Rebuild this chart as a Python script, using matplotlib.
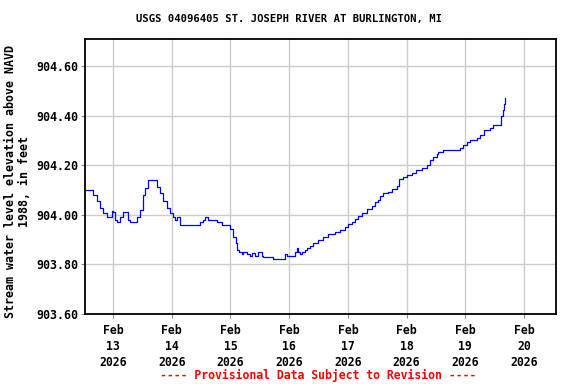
import matplotlib
matplotlib.use("Agg")
import matplotlib.pyplot as plt
import matplotlib.dates as mdates
import numpy as np
from datetime import datetime, timedelta

title = "USGS 04096405 ST. JOSEPH RIVER AT BURLINGTON, MI"
ylabel = "Stream water level elevation above NAVD\n1988, in feet"
footer = "---- Provisional Data Subject to Revision ----"

# hours after 2026-02-13 00:00
hours = [-11.0, -8.7, -8.05, -6.66, -5.31, -3.97, -2.58, -1.5, -0.53, 0.12, 0.82, 1.64, 2.45,
         2.86, 3.97, 5.31, 6.25, 6.95, 8.58, 9.69, 11.04, 12.39, 13.08, 14.19, 16.47, 17.86,
         19.21, 20.56, 21.95, 23.3, 24.65, 25.35, 26.04, 27.39, 35.28, 35.57, 36.92, 37.61,
         38.96, 42.1, 42.5, 44.44, 46.9, 47.83, 49.18, 50.16, 50.81, 51.63, 52.61, 53.27,
         54.66, 56.01, 56.7, 58.05, 59.4, 60.79, 61.44, 64.88, 65.28, 69.9, 70.31, 71.25,
         73.99, 74.4, 75.1, 75.75, 76.45, 77.14, 78.49, 79.43, 80.53, 81.88, 83.93, 85.97,
         88.01, 90.75, 92.8, 94.84, 96.19, 97.58, 98.93, 100.28, 101.67, 103.71, 105.76,
         107.11, 108.46, 109.15, 110.5, 112.54, 113.93, 115.98, 117.04, 118.68, 120.07,
         122.11, 123.87, 126.2, 128.24, 129.59, 130.94, 132.33, 132.99, 135.03, 141.16,
         141.85, 143.2, 144.84, 145.94, 148.68, 150.03, 151.79, 154.12, 155.47, 158.49,
         158.74, 159.31, 159.84, 160.37]
levels = [904.10, 904.10, 904.08, 904.054, 904.027, 904.007, 903.993, 903.993, 904.017,
          904.01, 903.98, 903.97, 903.97, 903.993, 904.01, 904.01, 903.98, 903.97, 903.97,
          903.993, 904.02, 904.08, 904.108, 904.139, 904.139, 904.114, 904.088, 904.054,
          904.027, 904.007, 903.993, 903.98, 903.99, 903.96, 903.96, 903.97, 903.98, 903.99,
          903.98, 903.98, 903.97, 903.96, 903.96, 903.942, 903.912, 903.886, 903.859,
          903.849, 903.842, 903.849, 903.842, 903.832, 903.845, 903.832, 903.849, 903.835,
          903.829, 903.829, 903.821, 903.821, 903.842, 903.832, 903.832, 903.852, 903.868,
          903.852, 903.842, 903.849, 903.859, 903.868, 903.876, 903.886, 903.899, 903.91,
          903.922, 903.93, 903.939, 903.95, 903.962, 903.973, 903.983, 903.996, 904.009,
          904.023, 904.036, 904.05, 904.06, 904.074, 904.088, 904.094, 904.104, 904.117,
          904.144, 904.151, 904.162, 904.168, 904.182, 904.189, 904.202, 904.222, 904.233,
          904.246, 904.252, 904.263, 904.263, 904.269, 904.283, 904.292, 904.30, 904.31,
          904.323, 904.341, 904.35, 904.362, 904.362, 904.397, 904.424, 904.448, 904.471]

tick_days = [13, 14, 15, 16, 17, 18, 19, 20]
ytick_vals = [903.60, 903.80, 904.00, 904.20, 904.40, 904.60]

base = datetime(2026, 2, 13)
times = [base + timedelta(hours=h) for h in hours]

font = "DejaVu Sans Mono"
plt.rcParams['font.family'] = font
plt.rcParams['font.weight'] = 'bold'

fig = plt.figure(figsize=(5.76, 3.84), dpi=100)
ax = fig.add_axes([85/576, 1-314/384, 471/576, 275/384])

ax.plot(times, levels, color='#0000ff', lw=0.9, drawstyle='steps-post')

ax.set_xlim(base - timedelta(hours=11.45), base + timedelta(days=7, hours=13.1))
ax.set_ylim(903.60, 904.709)

ax.set_xticks([datetime(2026, 2, d) for d in tick_days])
ax.set_xticklabels([f"Feb\n{d}\n2026" for d in tick_days], fontsize=8.3, fontweight='bold',
                   linespacing=1.33)
ax.set_yticks(ytick_vals)
ax.set_yticklabels([f"{v:.2f}" for v in ytick_vals], fontsize=8.4, fontweight='bold')

ax.grid(True, color='#cccccc', lw=1)
ax.set_axisbelow(True)
ax.tick_params(axis='y', length=3, width=0.8, color='#888888', pad=2)
ax.tick_params(axis='x', length=3, width=0.8, color='#888888', pad=4)
for s in ax.spines.values():
    s.set_linewidth(1.3)
    s.set_color('black')

fig.text(289.5/576, 1 - 19/384, title, ha='center', va='center', fontsize=7.6, fontweight='bold')
fig.text(17.5/576, 1 - 181.5/384, ylabel, ha='center', va='center', rotation=90, fontsize=8.4,
         fontweight='bold', linespacing=1.15)
fig.text(318/576, 1 - 375/384, footer, ha='center', va='center', fontsize=8.3,
         fontweight='bold', color='red')

fig.savefig("out.png", dpi=100)
